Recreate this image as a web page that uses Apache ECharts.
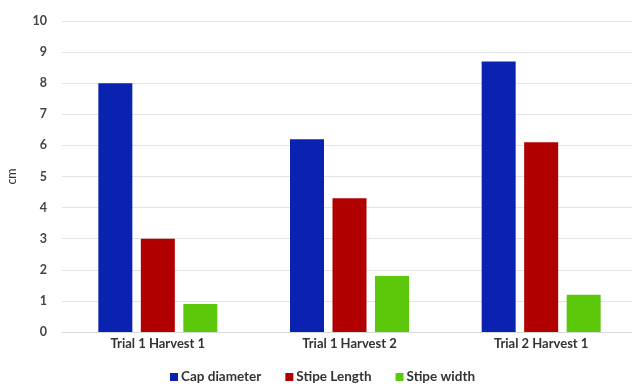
<!DOCTYPE html>
<html>
<head>
<meta charset="utf-8">
<script src="https://cdn.jsdelivr.net/npm/echarts@6/dist/echarts.min.js"></script>
<style>
  html, body { margin: 0; padding: 0; background: #fff; }
  #chart { width: 632px; height: 385px; }
</style>
</head>
<body>
<div id="chart"></div>
<script>
// Mushroom morphology per trial/harvest (cm)
const categories = ['Trial 1 Harvest 1', 'Trial 1 Harvest 2', 'Trial 2 Harvest 1'];
const capDiameter = [8.0, 6.2, 8.7];
const stipeLength = [3.0, 4.3, 6.1];
const stipeWidth = [0.9, 1.8, 1.2];
const seriesNames = ['Cap diameter', 'Stipe Length', 'Stipe width'];
const seriesColors = ['#0a22b0', '#b00000', '#5cc80a'];

const FONT = 'Lato';
const chart = echarts.init(document.getElementById('chart'), null, { renderer: 'canvas' });

const barSeries = [capDiameter, stipeLength, stipeWidth].map((vals, i) => ({
  name: seriesNames[i],
  type: 'bar',
  data: vals,
  barWidth: 34,
  barGap: '25%',
  itemStyle: { color: seriesColors[i] }
}));

chart.setOption({
  animation: false,
  backgroundColor: '#ffffff',
  textStyle: { fontFamily: FONT },
  // plot area runs past the right edge of the canvas
  grid: { left: 62, width: 575, top: 21, bottom: 53, containLabel: false, outerBoundsMode: 'none' },
  legend: {
    bottom: -4,
    left: 165,
    itemWidth: 8,
    itemHeight: 8,
    itemGap: 24,
    icon: 'rect',
    textStyle: { fontFamily: FONT, fontSize: 13.5, fontWeight: 'bold', color: '#333', padding: [0, 0, 0, -2] },
    data: seriesNames
  },
  xAxis: {
    type: 'category',
    data: categories,
    axisTick: { show: false },
    axisLine: { lineStyle: { color: '#d9d9d9', width: 1 } },
    axisLabel: { fontFamily: FONT, fontSize: 13, fontWeight: 'bold', color: '#333', margin: 5 }
  },
  yAxis: {
    type: 'value',
    min: 0,
    max: 10,
    interval: 1,
    name: 'cm',
    nameLocation: 'middle',
    nameGap: 44,
    nameRotate: 90,
    nameTextStyle: { fontFamily: FONT, fontSize: 12.5, color: '#333' },
    axisLine: { show: false },
    axisTick: { show: false },
    splitLine: { lineStyle: { color: '#e3e3e3', width: 1 } },
    axisLabel: { fontFamily: FONT, fontSize: 12.5, fontWeight: 'bold', color: '#444', margin: 15 }
  },
  series: barSeries
});
</script>
</body>
</html>
